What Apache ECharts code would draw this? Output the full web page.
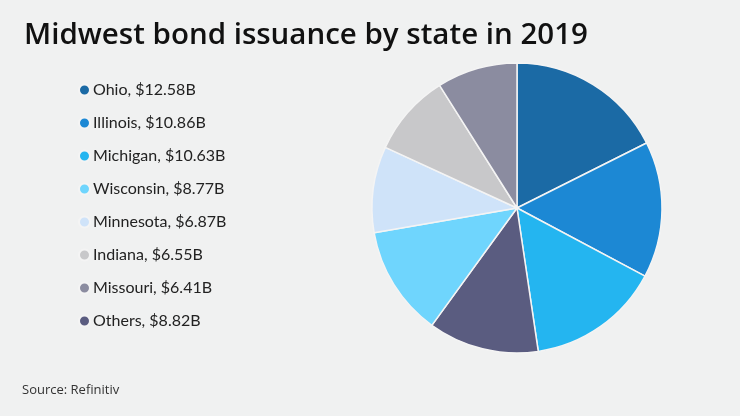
<!DOCTYPE html>
<html lang="en">
<head>
    <meta charset="UTF-8">
    <title>Midwest bond issuance by state in 2019</title>
    <script src="https://cdn.jsdelivr.net/npm/echarts@6/dist/echarts.min.js"></script>
    <style>
        html, body { margin: 0; padding: 0; background: #f0f1f1; }
        #chart { width: 740px; height: 416px; }
    </style>
</head>
<body>
    <div id="chart"></div>
    <script>
        // slices in pie order (clockwise from 12 o'clock)
        const states = ["Ohio", "Illinois", "Michigan", "Others", "Wisconsin", "Minnesota", "Indiana", "Missouri"];
        const issuance = [12.58, 10.86, 10.63, 8.82, 8.77, 6.87, 6.55, 6.41];
        const colors = ["#1b6aa5", "#1c88d4", "#24b5f0", "#5a5c80", "#6fd5fd", "#cfe3f9", "#c8c8ca", "#8b8ca0"];
        // legend order as printed
        const legendOrder = ["Ohio", "Illinois", "Michigan", "Wisconsin", "Minnesota", "Indiana", "Missouri", "Others"];

        const chart = echarts.init(document.getElementById('chart'));
        chart.setOption({
            backgroundColor: '#f0f1f1',
            animation: false,
            title: {
                text: 'Midwest bond issuance by state in 2019',
                left: 19, top: 16,
                textStyle: { fontFamily: 'Open Sans', fontSize: 29.5, fontWeight: 600, color: '#111' }
            },
            graphic: [{
                type: 'text', left: 22, top: 384,
                style: { text: 'Source: Refinitiv', font: '13px "Open Sans"', fill: '#333' }
            }],
            legend: {
                orient: 'vertical',
                left: 73, top: 77,
                icon: 'circle',
                itemWidth: 11, itemHeight: 11,
                itemGap: 17,
                data: legendOrder,
                textStyle: { fontFamily: 'Lato', fontSize: 16, color: '#222', padding: [0, 0, 0, -2] },
                formatter: name => name + ', $' + issuance[states.indexOf(name)].toFixed(2) + 'B'
            },
            series: [{
                type: 'pie',
                center: [517, 208],
                radius: [0, 145],
                startAngle: 90,
                clockwise: true,
                label: { show: false },
                labelLine: { show: false },
                emphasis: { disabled: true },
                itemStyle: { borderColor: '#f4f4f4', borderWidth: 1.5 },
                data: states.map((s, i) => ({ name: s, value: issuance[i], itemStyle: { color: colors[i] } }))
            }]
        });
    </script>
</body>
</html>
